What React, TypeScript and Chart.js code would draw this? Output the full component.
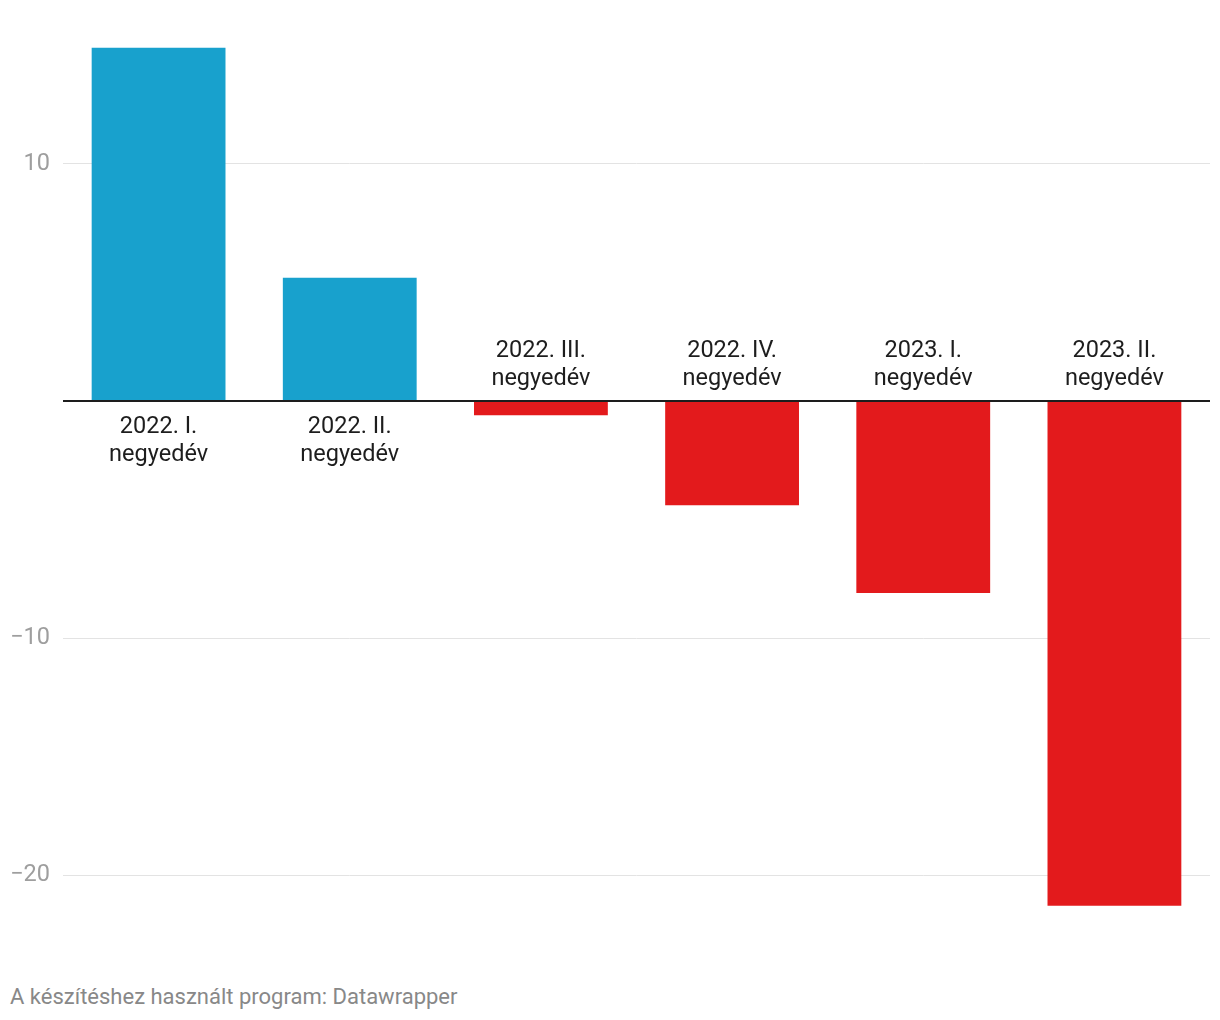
import React, { useEffect, useRef } from "react";
import { Chart, registerables } from "chart.js";

Chart.register(...registerables);

const categories: string[][] = [
  ["2022. I.", "negyedév"],
  ["2022. II.", "negyedév"],
  ["2022. III.", "negyedév"],
  ["2022. IV.", "negyedév"],
  ["2023. I.", "negyedév"],
  ["2023. II.", "negyedév"],
];
const values: number[] = [14.9, 5.2, -0.6, -4.4, -8.1, -21.3];
const yTicks: number[] = [10, 0, -10, -20];
const footerText = "A készítéshez használt program: Datawrapper";

const POS = "#18a1cd";
const NEG = "#e31a1c";

export default function App() {
  const ref = useRef<HTMLCanvasElement>(null);
  useEffect(() => {
    const canvas = ref.current!;
    const labelPlugin = {
      id: "catLabels",
      afterDatasetsDraw(chart: any) {
        const { ctx } = chart;
        const xs = chart.scales.x;
        const ys = chart.scales.y;
        const zero = ys.getPixelForValue(0);
        ctx.save();
        ctx.font = "23.5px Roboto";
        ctx.fillStyle = "#1d1d1d";
        ctx.textAlign = "center";
        ctx.textBaseline = "middle";
        categories.forEach((lines, i) => {
          const cx = xs.getPixelForValue(i);
          const pos = values[i] >= 0;
          lines.forEach((t, j) => {
            const dy = pos ? 26 + j * 28 : -50 + j * 28;
            ctx.fillText(t, cx, zero + dy);
          });
        });
        ctx.restore();
      },
    };
    const chart = new Chart(canvas, {
      type: "bar",
      data: {
        labels: categories.map((l) => l.join(" ")),
        datasets: [
          {
            data: values,
            backgroundColor: values.map((v) => (v >= 0 ? POS : NEG)),
            barPercentage: 0.7,
            categoryPercentage: 1,
          },
        ],
      },
      options: {
        animation: false,
        responsive: false,
        layout: { padding: { top: 45.5, right: 10, bottom: 37.6, left: 0 } },
        plugins: { legend: { display: false }, tooltip: { enabled: false } },
        scales: {
          x: { display: false },
          y: {
            min: -22,
            max: 15,
            afterBuildTicks: (s: any) => {
              s.ticks = yTicks.map((v) => ({ value: v }));
            },
            afterFit: (s: any) => {
              s.width = 63;
            },
            border: { display: false },
            grid: {
              drawTicks: false,
              color: (c: any) => (c.tick && c.tick.value === 0 ? "#1d1d1d" : "#e3e3e3"),
              lineWidth: (c: any) => (c.tick && c.tick.value === 0 ? 2 : 1),
            },
            ticks: {
              padding: 13,
              color: "#9e9e9e",
              font: { family: "Roboto", size: 23.5 },
              callback: (v: any) =>
                v === 0 ? "" : v < 0 ? "\u2212" + Math.abs(v) : String(v),
            },
          },
        },
      } as any,
      plugins: [labelPlugin],
    });
    return () => chart.destroy();
  }, []);

  return (
    <div style={{ position: "absolute", left: 0, top: 0, width: 1220, height: 1020, background: "#fff" }}>
      <canvas ref={ref} width={1220} height={960} style={{ display: "block" }} />
      <div
        style={{
          position: "absolute",
          left: 10,
          top: 985,
          fontFamily: "Roboto",
          fontSize: 22,
          color: "#888888",
          lineHeight: "24px",
          whiteSpace: "nowrap",
        }}
      >
        {footerText}
      </div>
    </div>
  );
}
